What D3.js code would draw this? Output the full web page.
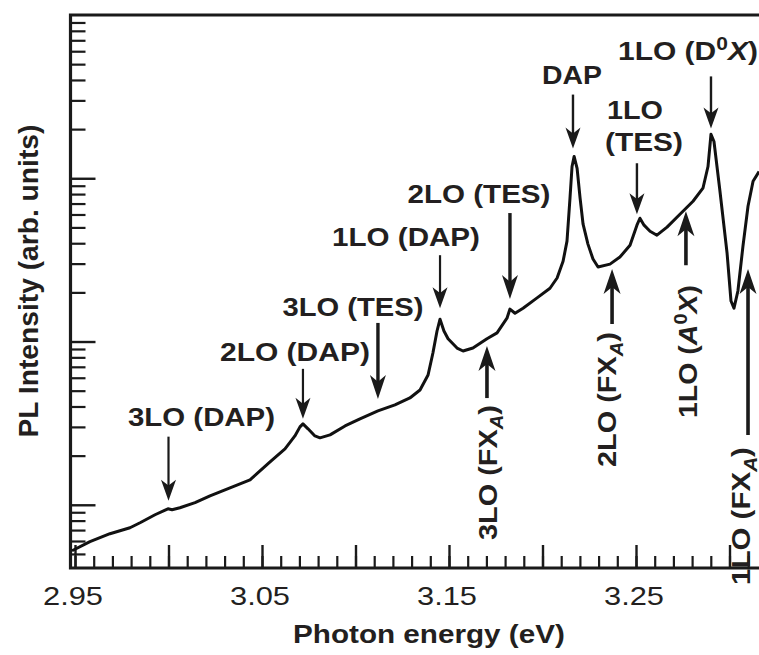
<!DOCTYPE html>
<html>
<head>
<meta charset="utf-8">
<script src="https://cdn.jsdelivr.net/npm/d3@7/dist/d3.min.js"></script>
<style>
  body { margin: 0; background: #fff; }
  svg { display: block; }
  text { font-family: "Liberation Sans", Arial, Helvetica, sans-serif; fill: #231f20; }
</style>
</head>
<body>
<svg id="chart" width="759" height="655"></svg>
<script>
// PL trace: photon energy (eV) and intensity (arb. units, log axis)
const energy = [
  2.9484, 2.958, 2.9687, 2.9794, 2.9848, 2.9928, 2.9997, 3.0019, 3.0061, 3.0142,
  3.0222, 3.0329, 3.0436, 3.0543, 3.0623, 3.0676, 3.0703, 3.0719, 3.0746, 3.0783,
  3.081, 3.0864, 3.0944, 3.1024, 3.112, 3.1211, 3.1291, 3.1345, 3.1388, 3.1414,
  3.1436, 3.1452, 3.1473, 3.1495, 3.1543, 3.1575, 3.1628, 3.1703, 3.1757, 3.181,
  3.1826, 3.1853, 3.1896, 3.1971, 3.204, 3.2078, 3.211, 3.2131, 3.2147, 3.2158,
  3.2169, 3.2185, 3.2201, 3.2217, 3.2243, 3.227, 3.2297, 3.2361, 3.2414, 3.2468,
  3.2505, 3.2521, 3.2543, 3.2575, 3.2612, 3.2666, 3.2735, 3.2805, 3.2858, 3.2885,
  3.2901, 3.2917, 3.2949, 3.2987, 3.3008, 3.3024, 3.3045, 3.3072, 3.3099, 3.3126,
  3.3158
];
const intensity = [
  0.523, 0.594, 0.665, 0.723, 0.776, 0.869, 0.945, 0.932, 0.959, 1.03,
  1.135, 1.27, 1.42, 1.83, 2.2, 2.64, 3.0, 3.13, 2.92, 2.64,
  2.57, 2.68, 3.04, 3.36, 3.76, 4.09, 4.51, 5.05, 6.24, 8.51,
  11.6, 13.7, 11.6, 10.4, 9.12, 8.75, 9.12, 10.4, 11.3, 13.9,
  15.8, 14.9, 16.0, 18.5, 21.2, 24.5, 31.0, 41.2, 75.5, 118,
  136, 115, 75.5, 52.3, 39.5, 32.0, 28.6, 29.8, 32.9, 38.9,
  51.6, 56.9, 51.6, 47.4, 44.8, 50.2, 60.2, 72.3, 86.9, 118,
  186, 168, 83.2, 34.8, 17.7, 16.0, 20.4, 38.4, 67.4, 95.9,
  110
];

const xTickLabels = [2.95, 3.05, 3.15, 3.25];
const xMajorTicks = [2.95, 3.00, 3.05, 3.10, 3.15, 3.20, 3.25, 3.30];
const yMajorTicks = [1, 10, 100];

// peaks marked from above: label parts, energy, intensity at arrow tip
const downLabels = [
  [["3LO (DAP)"]],
  [["2LO (DAP)"]],
  [["3LO (TES)"]],
  [["1LO (DAP)"]],
  [["2LO (TES)"]],
  [["DAP"]],
  [["1LO"]],
  [["1LO (D"], ["0", "sup"], ["X", "it"], [")"]]
];
const downEnergy = [3.0000, 3.0719, 3.1120, 3.1452, 3.1826, 3.2163, 3.2505, 3.2901];
const downTip = [1.06, 3.36, 4.45, 16.0, 18.2, 152, 60.2, 202];

// features marked from below
const upLabels = [
  [["3LO (FX"], ["A", "sub"], [")"]],
  [["2LO (FX"], ["A", "sub"], [")"]],
  [["1LO ("], ["A", "it"], ["0", "sup"], ["X", "it"], [")"]],
  [["1LO (FX"], ["A", "sub"], [")"]]
];
const upEnergy = [3.1703, 3.2372, 3.2767, 3.3099];
const upTip = [9.38, 27.8, 62.8, 27.8];

// layout for the annotations (pixels)
const downLayout = [
  { len: 64, w: 2.2, dx: 33, dy: -11, tl: 147 },
  { len: 50, w: 2.2, dx: -8, dy: -8, tl: 150 },
  { len: 76, w: 3.4, dx: -25, dy: -7, tl: 141 },
  { len: 53, w: 2.2, dx: -34, dy: -9, tl: 148 },
  { len: 86, w: 3.4, dx: -31, dy: -10, tl: 143 },
  { len: 54, w: 2.4, dx: -1, dy: -11, tl: 60 },
  { len: 51, w: 2.4, dx: -2, dy: -44, tl: 56, second: { text: "(TES)", dx: 7, dy: -12, tl: 78 } },
  { len: 52, w: 2.4, dx: -23, dy: -16, tl: 140 }
];
const upLayout = [
  { len: 52, dx: 10, startY: 540, tl: 135 },
  { len: 55, dx: 4, startY: 467, tl: 135 },
  { len: 54, dx: 11, startY: 418, tl: 133 },
  { len: 166, dx: 2, startY: 585, tl: 138 }
];

const svg = d3.select("#chart");
const plotLeft = 70.5, plotTop = 15, plotBottom = 568, plotRight = 765;

const x = d3.scaleLinear().domain([2.95, 3.25]).range([75, 636]);
const y = d3.scaleLog().domain([0.41, 1000]).range([plotBottom, plotTop]);

// text helper: sets size, then stretches along the reading direction to the wanted length
function addLabel(parent, parts, o) {
  const g = parent.append("g");
  const t = g.append("text")
    .attr("font-size", o.size)
    .attr("font-weight", o.weight || "bold");
  let shift = 0;
  parts.forEach(p => {
    const s = t.append("tspan").text(p[0]);
    let want = 0;
    if (p[1] === "sub") { s.attr("font-size", o.size * 0.7).attr("font-style", "italic"); want = o.size * 0.25; }
    if (p[1] === "sup") { s.attr("font-size", o.size * 0.7); want = -o.size * 0.4; }
    if (p[1] === "it") { s.attr("font-style", "italic"); }
    if (want !== shift) { s.attr("dy", want - shift); shift = want; }
  });
  const w = t.node().getComputedTextLength();
  const sx = o.length ? o.length / w : 1;
  t.attr("x", o.anchor === "start" ? 0 : -w / 2);
  g.attr("transform", `translate(${o.x},${o.y}) rotate(${o.rotate || 0}) scale(${sx},1)`);
  return g;
}

function arrowHead(g, xp, tip, dir, hw, hl) {
  // dir = 1 points down, -1 points up
  g.append("path")
    .attr("d", `M${xp},${tip} L${xp - hw},${tip - dir * hl} L${xp},${tip - dir * hl * 0.72} L${xp + hw},${tip - dir * hl} Z`)
    .attr("fill", "#1a1a1a");
}

// axes: ticks point inwards, no numbers on the log axis
const xMinor = d3.range(295, 332).map(d => d / 100);
svg.append("g")
  .attr("transform", `translate(0,${plotBottom})`)
  .call(d3.axisBottom(x).tickValues(xMinor).tickSize(-12).tickSizeOuter(0).tickFormat(""))
  .call(g => g.selectAll(".tick line").attr("stroke-width", 2.2).attr("stroke", "#1a1a1a"))
  .call(g => g.select(".domain").remove());
svg.append("g")
  .attr("transform", `translate(0,${plotBottom})`)
  .call(d3.axisBottom(x).tickValues(xMajorTicks).tickSize(-23).tickSizeOuter(0).tickFormat(""))
  .call(g => g.selectAll(".tick line").attr("stroke-width", 2.4).attr("stroke", "#1a1a1a"))
  .call(g => g.select(".domain").remove());

const yMinor = [];
[0.1, 1, 10, 100].forEach(dec => d3.range(2, 10).forEach(k => {
  const v = k * dec;
  if (v > 0.41 && v < 1000) yMinor.push(v);
}));
svg.append("g")
  .attr("transform", `translate(${plotLeft},0)`)
  .call(d3.axisLeft(y).tickValues(yMinor).tickSize(-15).tickSizeOuter(0).tickFormat(""))
  .call(g => g.selectAll(".tick line").attr("stroke-width", 2.2).attr("stroke", "#1a1a1a"))
  .call(g => g.select(".domain").remove());
svg.append("g")
  .attr("transform", `translate(${plotLeft},0)`)
  .call(d3.axisLeft(y).tickValues(yMajorTicks).tickSize(-25).tickSizeOuter(0).tickFormat(""))
  .call(g => g.selectAll(".tick line").attr("stroke-width", 2.4).attr("stroke", "#1a1a1a"))
  .call(g => g.select(".domain").remove());

svg.append("path")
  .attr("d", `M${plotRight},${plotTop} H${plotLeft} V${plotBottom} H${plotRight}`)
  .attr("fill", "none")
  .attr("stroke", "#1a1a1a")
  .attr("stroke-width", 3.2);

// the spectrum
svg.append("clipPath").attr("id", "plotclip")
  .append("rect").attr("x", plotLeft).attr("y", plotTop)
  .attr("width", plotRight - plotLeft).attr("height", plotBottom - plotTop);

const line = d3.line()
  .x((d, i) => x(energy[i]))
  .y((d, i) => y(intensity[i]));

svg.append("path")
  .datum(intensity)
  .attr("clip-path", "url(#plotclip)")
  .attr("d", line)
  .attr("fill", "none")
  .attr("stroke", "#111")
  .attr("stroke-width", 3)
  .attr("stroke-linejoin", "round");

// annotations from above
const ann = svg.append("g");
downLabels.forEach((parts, i) => {
  const L = downLayout[i];
  const xp = x(downEnergy[i]);
  const tip = y(downTip[i]);
  const tail = tip - L.len;
  ann.append("line")
    .attr("x1", xp).attr("x2", xp)
    .attr("y1", tail).attr("y2", tip - 12)
    .attr("stroke", "#1a1a1a").attr("stroke-width", L.w);
  arrowHead(ann, xp, tip, 1, L.w > 3 ? 8 : 7.5, L.w > 3 ? 24 : 21);
  addLabel(ann, parts, { x: xp + L.dx, y: tail + L.dy, size: 26, length: L.tl });
  if (L.second) {
    addLabel(ann, [[L.second.text]], { x: xp + L.second.dx, y: tail + L.second.dy, size: 26, length: L.second.tl });
  }
});

// annotations from below, rotated text
upLabels.forEach((parts, i) => {
  const L = upLayout[i];
  const xp = x(upEnergy[i]);
  const tip = y(upTip[i]);
  const tail = tip + L.len;
  ann.append("line")
    .attr("x1", xp).attr("x2", xp)
    .attr("y1", tail).attr("y2", tip + 14)
    .attr("stroke", "#1a1a1a").attr("stroke-width", 3.6);
  arrowHead(ann, xp, tip, -1, 8.5, 25);
  addLabel(ann, parts, { x: xp + L.dx, y: L.startY, size: 26, length: L.tl, rotate: -90, anchor: "start" });
});

// tick numbers and titles
xTickLabels.forEach(v => {
  addLabel(svg, [[v.toFixed(2)]], { x: x(v) - 2, y: 605, size: 25, weight: "normal", length: 60 });
});
addLabel(svg, [["Photon energy (eV)"]], { x: 429, y: 643, size: 25, length: 272 });
addLabel(svg, [["PL Intensity (arb. units)"]], { x: 38, y: 281, size: 28, length: 313, rotate: -90 });
</script>
</body>
</html>
